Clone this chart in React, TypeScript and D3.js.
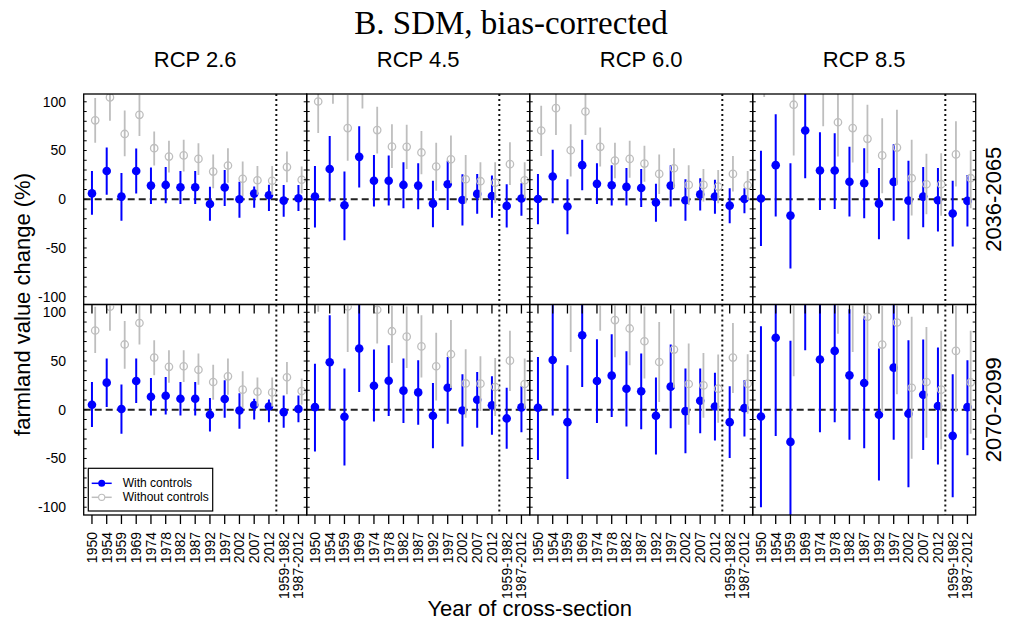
import React from "react";
import * as d3 from "d3";

const categories = ["1950", "1954", "1959", "1969", "1974", "1978", "1982", "1987", "1992", "1997", "2002", "2007", "2012", "1959-1982", "1987-2012"];
const scenarios = ["RCP 2.6", "RCP 4.5", "RCP 6.0", "RCP 8.5"];
const periods = ["2036-2065", "2070-2099"];
const yTickLabels = [-100, -50, 0, 50, 100];
const legendLabels = ["With controls", "Without controls"];

// each entry: [estimate, lower, upper]
const rcp26_2036_with = [[6, -16, 29], [29, 4.5, 53], [2.7, -22, 27], [29, 6, 52], [14, -5, 32.5], [14.7, -4, 33], [12.3, -5, 29], [12.3, -5, 29], [-4.8, -22, 12.7], [12, -7, 30], [0, -19, 18], [5.8, -8.6, 13], [4.1, -12, 15], [-1.4, -18, 14.7], [1, -12, 14.7]];
const rcp26_2036_without = [[81, 58, 104], [104.5, 80.5, 128], [67, 44, 91], [86.6, 65, 107], [52.4, 34.6, 69.5], [43.8, 27.4, 60], [45, 28.4, 61], [41.4, 25, 57.5], [28.4, 11.3, 46], [34.6, 17, 52.4], [21, 3.4, 38.7], [19.5, 4.5, 34], [19, 4.5, 34], [33, 17.5, 49], [20, 6, 33.6]];

const rcp45_2036_with = [[2.7, -29, 34], [31, -2.4, 65], [-6.2, -42, 28.4], [43.5, 12, 75], [19, -7.5, 45.5], [19, -6.5, 45], [14.7, -9.2, 38], [14, -10.3, 37], [-4.5, -28.8, 19], [15.4, -11, 39.4], [-0.7, -27, 25.7], [5.5, -15, 26], [3.4, -19, 24.3], [-6.8, -29, 15.4], [0.7, -17, 16.4]];
const rcp45_2036_without = [[100.3, 68, 132], [125, 98, 152], [73, 39.4, 107], [118, 93, 143], [71, 47, 95], [54, 32, 77], [53.8, 31, 76.4], [48, 25.7, 70], [33.6, 8.6, 58], [41, 16.4, 65.4], [20.5, -4, 45.5], [18.5, -0.7, 38], [17, -4, 38], [36, 14.7, 58.5], [19.5, 1, 38]];

const rcp60_2036_with = [[0.3, -25.7, 26], [23.3, -4, 50.7], [-7.5, -36, 20.5], [35, 9.2, 61], [15.8, -5, 37], [14.4, -6.5, 35], [12.7, -6.5, 32], [11.6, -7.9, 31], [-3.4, -23, 16], [14, -7.5, 35], [-1, -22, 20.5], [5, -11.6, 21.6], [2.7, -15, 20], [-6.5, -24.7, 11.3], [0.3, -14.4, 11.3]];
const rcp60_2036_without = [[70.5, 44.5, 96], [93.5, 66, 120], [50.3, 23.3, 77], [90, 66, 114], [53.8, 33.6, 73.6], [39.7, 21.6, 58], [41.4, 22, 60], [36.6, 18, 54.8], [26, 5.5, 46], [31.8, 11.3, 52.4], [14.7, -5.8, 35], [14.7, -2.4, 31], [13, -4, 30], [26, 7.9, 44.5], [14.4, -0.7, 29]];

const rcp85_2036_with = [[0.7, -48, 49.7], [35, -17.8, 87.3], [-16.8, -71, 37], [70.5, 21.6, 120], [29.5, -11, 68.8], [29.5, -10, 67.8], [18, -17.8, 53.8], [16.4, -19.5, 52.4], [-4.5, -41, 32], [17.8, -22, 56.5], [-1.4, -41, 39.4], [2.7, -28.8, 33.2], [-1, -33, 32], [-14.7, -48.6, 19], [-1.7, -28, 25]];
const rcp85_2036_without = [[135, 105, 165], [150, 112, 190], [97, 45, 150], [140, 112, 170], [115, 75, 155], [79, 43.8, 115], [73, 37.7, 108], [62, 26.7, 97], [45, 6.2, 83], [53, 14.7, 91.8], [21.6, -16.8, 61], [15.4, -15.4, 46.6], [15.4, -17, 47.3], [46, 13, 80], [21.6, -9.2, 50]];

const rcp26_2070_with = [[5.1, -17.8, 28.5], [27.8, 2.7, 52.5], [0.7, -24.7, 26], [29.5, 6.9, 52.5], [13.4, -5.8, 32.6], [14.4, -4.8, 33.6], [11.3, -5.8, 28.5], [11.3, -5.8, 28.5], [-5.1, -22.3, 12], [11, -8.2, 30.2], [-0.7, -19.5, 17], [4.8, -10, 11.3], [3.4, -12.7, 10.6], [-2.4, -18.5, 14.7], [0.7, -12.7, 14.7]];
const rcp26_2070_without = [[81.3, 58.3, 105.7], [105.7, 81, 130], [67, 42, 91], [89, 67, 110], [53.5, 35.3, 71.4], [44, 27.8, 61], [44.6, 28.5, 61], [41, 25.7, 57.6], [28.5, 10.3, 46.3], [34.3, 15.4, 52.5], [20.6, 2, 39.5], [18.5, 3.4, 33], [17.8, 3.4, 33], [33.3, 15.8, 49], [19.2, 5.5, 32]];

const rcp45_2070_with = [[2.7, -42.9, 47.3], [48.7, 0, 97], [-7.2, -57.3, 42.2], [62.8, 18.2, 110], [24.7, -12, 61.7], [29.8, -6.5, 66.2], [19.6, -13.7, 52.5], [17.8, -15.4, 50.8], [-6.2, -39.5, 27.4], [22.6, -14.4, 54.2], [-0.7, -37.7, 36.4], [10.3, -18.5, 38.8], [4.5, -25.7, 34.3], [-8.9, -40, 22.6], [2.4, -23, 24]];
const rcp45_2070_without = [[130, 100.5, 160], [160, 115, 205], [106, 59.3, 150], [140, 112, 170], [102.6, 68, 137], [80.6, 48, 107], [75, 42.9, 106], [65, 33, 97], [44.6, 9.6, 79], [57, 22.3, 92], [27, -8.2, 62], [26.8, -1.4, 55], [23.3, -6.5, 53], [50.4, 19.2, 81], [26.4, 1, 52.5]];

const rcp60_2070_with = [[2, -51.5, 54.2], [51, -5.8, 115], [-12.7, -71, 45.6], [76.5, 23.3, 125], [29.5, -13.7, 72.4], [35, -7.5, 77.5], [21.6, -17.2, 60], [18.9, -19.9, 57.6], [-6.2, -46, 33], [23.7, -18.9, 66.9], [-1.4, -44.6, 42.2], [9.3, -24, 42.2], [3.4, -31.6, 38], [-12.7, -49.4, 24], [1.7, -27.4, 30.2]];
const rcp60_2070_without = [[140, 112, 170], [160, 115, 205], [115, 59.3, 170], [150, 112, 190], [120, 81, 160], [92, 54, 130], [83.4, 45.6, 120], [70.3, 32, 106], [49, 7.9, 90], [61.7, 22.6, 103], [26.4, -15.4, 68], [25, -8.2, 58.3], [21.6, -13.4, 56.6], [53.5, 17.2, 89], [26.8, -4, 57]];

const rcp85_2070_with = [[-6.9, -100, 85.8], [73.8, -27, 125], [-33, -130, 70.7], [115, 61, 170], [51.5, -23, 125], [60.4, -12.7, 135], [35.3, -30.9, 103], [27.4, -39.5, 96], [-5.1, -72.7, 62.8], [43.2, -30.9, 115], [-4.1, -79.6, 71.4], [15.4, -41.2, 72], [3.8, -56.3, 63.8], [-26.8, -89.9, 36.4], [2.7, -46.7, 50.8]];
const rcp85_2070_without = [[150, 112, 190], [170, 120, 220], [115, 34.3, 195], [170, 120, 220], [160, 115, 205], [125, 78, 170], [115, 59.3, 170], [95.4, 30.2, 160], [66.9, -2.4, 107], [89.5, 15.8, 160], [22.6, -50.4, 95.4], [28.5, -28.8, 85], [20.6, -40.8, 81], [60.4, -2.4, 107], [28.1, -24.7, 81]];

const panelData = [
  [rcp26_2036_with, rcp26_2036_without],
  [rcp45_2036_with, rcp45_2036_without],
  [rcp60_2036_with, rcp60_2036_without],
  [rcp85_2036_with, rcp85_2036_without],
  [rcp26_2070_with, rcp26_2070_without],
  [rcp45_2070_with, rcp45_2070_without],
  [rcp60_2070_with, rcp60_2070_without],
  [rcp85_2070_with, rcp85_2070_without],
];

const BLUE = "#0000ff";
const GRAY = "#bebebe";
const SANS = "'Liberation Sans', Arial, Helvetica, sans-serif";
const SERIF = "'Liberation Serif', 'Times New Roman', serif";

export default function App() {
  const W = 1013, H = 624;
  const left = 83.7, right = 975.7, top = 94, bottom = 515;
  const colW = (right - left) / 4;
  const rowH = (bottom - top) / 2;
  const x = d3.scaleLinear().domain([0.44, 15.56]).range([0, colW]);
  const y = d3.scaleLinear().domain([-108, 108]).range([rowH, 0]);
  const minorTicks = d3.range(-100, 101, 10);
  const grayOffset = 0.22;

  const panels = panelData.map(([withC, withoutC], idx) => {
    const row = Math.floor(idx / 4);
    const col = idx % 4;
    const px = left + col * colW;
    const py = top + row * rowH;
    const clipId = `clip-${idx}`;
    return (
      <g key={idx} transform={`translate(${px},${py})`}>
        <defs>
          <clipPath id={clipId}>
            <rect x={0} y={0} width={colW} height={rowH} />
          </clipPath>
        </defs>
        <g clipPath={`url(#${clipId})`}>
          <line x1={0} x2={colW} y1={y(0)} y2={y(0)} stroke="#222" strokeWidth={2} strokeDasharray="7,4" />
          <line x1={x(13.5)} x2={x(13.5)} y1={0} y2={rowH} stroke="#111" strokeWidth={2} strokeDasharray="2,3" />
          {withC.map((d, i) => (
            <g key={`w${i}`}>
              <line x1={x(i + 1)} x2={x(i + 1)} y1={y(d[1])} y2={y(d[2])} stroke={BLUE} strokeWidth={2} />
              <circle cx={x(i + 1)} cy={y(d[0])} r={4.3} fill={BLUE} />
            </g>
          ))}
          {withoutC.map((d, i) => (
            <g key={`o${i}`}>
              <line x1={x(i + 1 + grayOffset)} x2={x(i + 1 + grayOffset)} y1={y(d[1])} y2={y(d[2])} stroke={GRAY} strokeWidth={1.8} />
              <circle cx={x(i + 1 + grayOffset)} cy={y(d[0])} r={3.7} fill="none" stroke={GRAY} strokeWidth={1.3} />
            </g>
          ))}
        </g>
        {minorTicks.map((t) => (
          <g key={`t${t}`}>
            <line x1={0} x2={3} y1={y(t)} y2={y(t)} stroke="#000" strokeWidth={1} />
            <line x1={colW - 3} x2={colW} y1={y(t)} y2={y(t)} stroke="#000" strokeWidth={1} />
          </g>
        ))}
        {row === 1 && categories.map((c, i) => (
          <g key={`xt${i}`}>
            <line x1={x(i + 1)} x2={x(i + 1)} y1={0} y2={9} stroke="#000" strokeWidth={1.3} />
            <line x1={x(i + 1)} x2={x(i + 1)} y1={rowH} y2={rowH + 9} stroke="#000" strokeWidth={1.3} />
            <text
              transform={`translate(${x(i + 1)},${rowH + 17}) rotate(-90)`}
              textAnchor="end"
              dy="0.35em"
              fontSize={14}
              fontFamily={SANS}
            >
              {c}
            </text>
          </g>
        ))}
        {col === 0 && yTickLabels.map((t) => (
          <text key={`yl${t}`} x={-17.7} y={y(t)} dy="0.35em" textAnchor="end" fontSize={14} fontFamily={SANS}>
            {t}
          </text>
        ))}
        <rect x={0} y={0} width={colW} height={rowH} fill="none" stroke="#000" strokeWidth={1.3} />
      </g>
    );
  });

  const legendX = 88.3, legendY = 468.3;
  return (
    <svg width={W} height={H} style={{ position: "absolute", left: 0, top: 0, background: "#fff" }}>
      <rect x={0} y={0} width={W} height={H} fill="#fff" />
      <text x={511} y={34} textAnchor="middle" fontSize={33} fontFamily={SERIF}>
        B. SDM, bias-corrected
      </text>
      {scenarios.map((s, i) => (
        <text key={s} x={left + (i + 0.5) * colW} y={66.7} textAnchor="middle" fontSize={22} fontFamily={SANS}>
          {s}
        </text>
      ))}
      {periods.map((p, i) => (
        <text
          key={p}
          transform={`translate(993,${top + (i + 0.5) * rowH}) rotate(-90)`}
          textAnchor="middle"
          dy="0.35em"
          fontSize={22}
          fontFamily={SANS}
        >
          {p}
        </text>
      ))}
      <text transform={`translate(22,${(top + bottom) / 2}) rotate(-90)`} textAnchor="middle" dy="0.35em" fontSize={22} fontFamily={SANS}>
        farmland value change (%)
      </text>
      <text x={(left + right) / 2} y={616} textAnchor="middle" fontSize={22} fontFamily={SANS}>
        Year of cross-section
      </text>
      {panels}
      <g transform={`translate(${legendX},${legendY})`}>
        <rect x={0} y={0} width={124.4} height={42.7} fill="#fff" stroke="#000" strokeWidth={1.2} />
        <line x1={3.4} x2={23.4} y1={15} y2={15} stroke={BLUE} strokeWidth={1.5} />
        <circle cx={13.4} cy={15} r={3.5} fill={BLUE} />
        <text x={34.4} y={15} dy="0.35em" fontSize={12} fontFamily={SANS}>{legendLabels[0]}</text>
        <line x1={3.4} x2={23.4} y1={29} y2={29} stroke={GRAY} strokeWidth={1.5} />
        <circle cx={13.4} cy={29} r={3.1} fill="#fff" stroke={GRAY} strokeWidth={1.1} />
        <text x={34.4} y={29} dy="0.35em" fontSize={12} fontFamily={SANS}>{legendLabels[1]}</text>
      </g>
    </svg>
  );
}
